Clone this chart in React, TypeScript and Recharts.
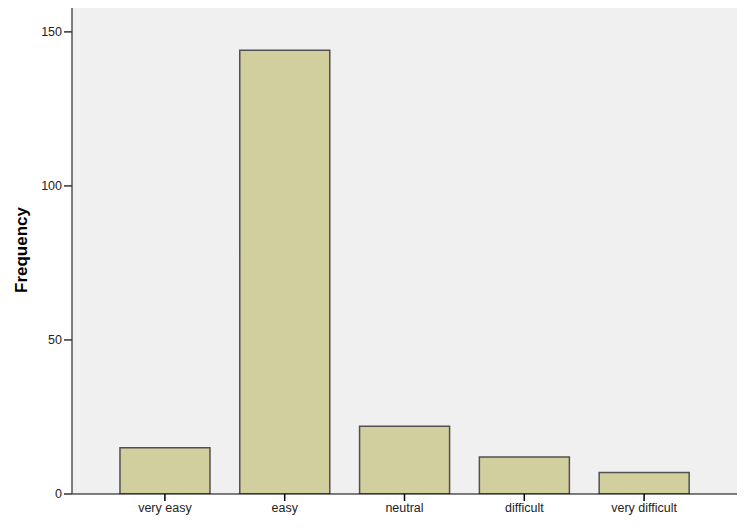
import React from 'react';
import { BarChart, Bar, XAxis, YAxis, CartesianGrid } from 'recharts';

const categories = ['very easy', 'easy', 'neutral', 'difficult', 'very difficult'];
const frequency = [15, 144, 22, 12, 7];
const yTicks = [0, 50, 100, 150];

const data = categories.map((name, i) => ({ name, count: frequency[i] }));

const font = 'Arial, "Liberation Sans", sans-serif';

const FreqLabel = (props: any) => {
	const vb = props.viewBox || {};
	const cy = vb.y + vb.height / 2;
	return (
		<text x={21} y={cy} transform={`rotate(-90, 21, ${cy})`} textAnchor='middle' dominantBaseline='central' fontFamily={font} fontSize={17} fontWeight='bold' fill='#000'>
			Frequency
		</text>
	);
};

export default function App() {
	return (
		<div style={{ margin: -8 }}>
			<BarChart width={748} height={528} data={data} margin={{ top: 6, right: 11, left: 0, bottom: 0 }} barCategoryGap='12.5%'>
				<CartesianGrid fill='#f0f0f0' horizontal={false} vertical={false} />
				<XAxis
					dataKey='name'
					height={34}
					padding={{ left: 33, right: 33 }}
					axisLine={{ stroke: '#000', strokeWidth: 1 }}
					tickLine={{ stroke: '#000', strokeWidth: 1.5 }}
					tickSize={7}
					tickMargin={2}
					tick={{ fill: '#222', fontSize: 12.5, fontFamily: font }}
					interval={0}
				/>
				<XAxis xAxisId='top' dataKey='name' orientation='top' height={0} tick={false} tickLine={false} axisLine={{ stroke: '#888', strokeWidth: 1.5 }} />
				<YAxis
					width={72}
					domain={[0, 158.4]}
					ticks={yTicks}
					allowDataOverflow
					axisLine={{ stroke: '#555', strokeWidth: 1.5 }}
					tickLine={{ stroke: '#333', strokeWidth: 1.5 }}
					tickSize={8}
					tickMargin={2}
					tick={{ fill: '#222', fontSize: 12.5, fontFamily: font }}
					label={<FreqLabel />}
				/>
				<YAxis yAxisId='right' orientation='right' width={0} tick={false} tickLine={false} axisLine={{ stroke: '#888', strokeWidth: 1.5 }} />
				<Bar dataKey='count' fill='#d2cf9e' stroke='#505050' strokeWidth={1.5} isAnimationActive={false} />
			</BarChart>
		</div>
	);
}
